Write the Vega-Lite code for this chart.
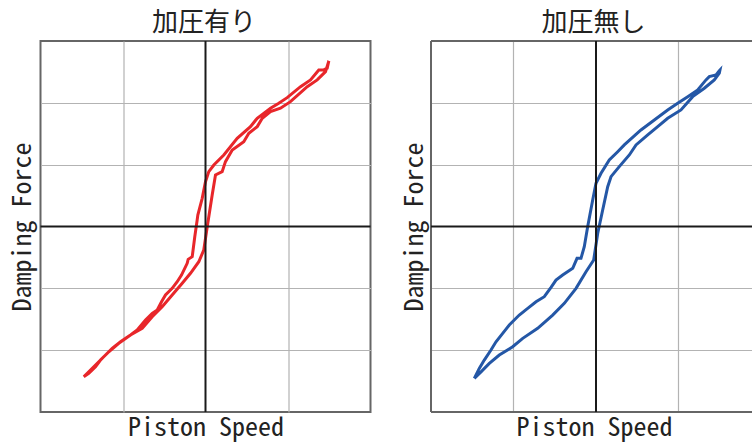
{
  "$schema": "https://vega.github.io/schema/vega-lite/v6.json",
  "background": "white",
  "padding": {"left": 7.5, "top": 9, "right": 0, "bottom": 0},
  "bounds": "flush",
  "spacing": 60.5,
  "config": {
    "view": {"stroke": "#666666", "strokeWidth": 2},
    "title": {"font": "Noto Sans CJK JP", "fontSize": 26, "fontWeight": "normal", "color": "#222222", "offset": 4},
    "axis": {"labels": false, "ticks": false, "domain": false, "grid": true, "gridColor": "#b3b3b3", "gridWidth": 1.2,
      "titleFont": "Noto Sans Mono CJK JP, DejaVu Sans Mono", "titleFontSize": 26, "titleFontWeight": "normal", "titleColor": "#222222"}
  },
  "datasets": {
    "red": [
      {"i":1,"x":-1.476,"y":-2.430},{"i":2,"x":-1.415,"y":-2.375},{"i":3,"x":-1.333,"y":-2.269},{"i":4,"x":-1.273,"y":-2.160},
      {"i":5,"x":-1.172,"y":-2.026},{"i":6,"x":-1.051,"y":-1.890},{"i":7,"x":-0.909,"y":-1.754},{"i":8,"x":-0.767,"y":-1.647},
      {"i":9,"x":-0.646,"y":-1.460},{"i":10,"x":-0.525,"y":-1.298},{"i":11,"x":-0.404,"y":-1.108},{"i":12,"x":-0.282,"y":-0.919},
      {"i":13,"x":-0.182,"y":-0.757},{"i":14,"x":-0.081,"y":-0.570},{"i":15,"x":-0.021,"y":-0.380},{"i":16,"x":0.021,"y":-0.003},
      {"i":17,"x":0.081,"y":0.510},{"i":18,"x":0.121,"y":0.833},{"i":19,"x":0.202,"y":0.887},{"i":20,"x":0.242,"y":1.049},
      {"i":21,"x":0.324,"y":1.238},{"i":22,"x":0.464,"y":1.372},{"i":23,"x":0.525,"y":1.508},{"i":24,"x":0.627,"y":1.615},
      {"i":25,"x":0.688,"y":1.751},{"i":26,"x":0.788,"y":1.858},{"i":27,"x":0.909,"y":1.913},{"i":28,"x":1.030,"y":2.019},
      {"i":29,"x":1.233,"y":2.262},{"i":30,"x":1.354,"y":2.371},{"i":31,"x":1.455,"y":2.505},{"i":32,"x":1.495,"y":2.678},
      {"i":33,"x":1.475,"y":2.560},{"i":34,"x":1.434,"y":2.532},{"i":35,"x":1.373,"y":2.532},{"i":36,"x":1.273,"y":2.371},
      {"i":37,"x":1.152,"y":2.262},{"i":38,"x":0.990,"y":2.084},{"i":39,"x":0.888,"y":1.994},{"i":40,"x":0.788,"y":1.913},
      {"i":41,"x":0.627,"y":1.751},{"i":42,"x":0.545,"y":1.615},{"i":43,"x":0.384,"y":1.427},{"i":44,"x":0.222,"y":1.157},
      {"i":45,"x":0.101,"y":0.995},{"i":46,"x":0.040,"y":0.887},{"i":47,"x":0.000,"y":0.725},{"i":48,"x":-0.040,"y":0.456},
      {"i":49,"x":-0.093,"y":0.186},{"i":50,"x":-0.101,"y":0.105},{"i":51,"x":-0.130,"y":-0.165},{"i":52,"x":-0.161,"y":-0.489},
      {"i":53,"x":-0.210,"y":-0.531},{"i":54,"x":-0.222,"y":-0.595},{"i":55,"x":-0.291,"y":-0.785},{"i":56,"x":-0.343,"y":-0.893},
      {"i":57,"x":-0.404,"y":-1.000},{"i":58,"x":-0.485,"y":-1.108},{"i":59,"x":-0.533,"y":-1.217},{"i":60,"x":-0.585,"y":-1.351},
      {"i":61,"x":-0.646,"y":-1.405},{"i":62,"x":-0.727,"y":-1.513},{"i":63,"x":-0.828,"y":-1.675},{"i":64,"x":-0.909,"y":-1.754},
      {"i":65,"x":-1.030,"y":-1.864},{"i":66,"x":-1.131,"y":-1.971},{"i":67,"x":-1.233,"y":-2.107},{"i":68,"x":-1.333,"y":-2.241},
      {"i":69,"x":-1.415,"y":-2.350},{"i":70,"x":-1.476,"y":-2.430}
    ],
    "blue": [
      {"i":1,"x":-1.475,"y":-2.456},{"i":2,"x":-1.394,"y":-2.350},{"i":3,"x":-1.293,"y":-2.214},{"i":4,"x":-1.172,"y":-2.079},
      {"i":5,"x":-1.010,"y":-1.945},{"i":6,"x":-0.888,"y":-1.809},{"i":7,"x":-0.707,"y":-1.647},{"i":8,"x":-0.525,"y":-1.432},
      {"i":9,"x":-0.384,"y":-1.243},{"i":10,"x":-0.242,"y":-1.000},{"i":11,"x":-0.121,"y":-0.731},{"i":12,"x":-0.028,"y":-0.542},
      {"i":13,"x":0.021,"y":-0.110},{"i":14,"x":0.081,"y":0.267},{"i":15,"x":0.142,"y":0.644},{"i":16,"x":0.182,"y":0.806},
      {"i":17,"x":0.282,"y":0.968},{"i":18,"x":0.404,"y":1.157},{"i":19,"x":0.485,"y":1.319},{"i":20,"x":0.627,"y":1.481},
      {"i":21,"x":0.748,"y":1.615},{"i":22,"x":0.869,"y":1.751},{"i":23,"x":1.030,"y":1.885},{"i":24,"x":1.172,"y":2.100},
      {"i":25,"x":1.313,"y":2.236},{"i":26,"x":1.434,"y":2.371},{"i":27,"x":1.495,"y":2.479},{"i":28,"x":1.503,"y":2.532},
      {"i":29,"x":1.495,"y":2.521},{"i":30,"x":1.455,"y":2.451},{"i":31,"x":1.373,"y":2.424},{"i":32,"x":1.333,"y":2.371},
      {"i":33,"x":1.233,"y":2.209},{"i":34,"x":1.112,"y":2.100},{"i":35,"x":0.990,"y":1.994},{"i":36,"x":0.869,"y":1.885},
      {"i":37,"x":0.707,"y":1.723},{"i":38,"x":0.545,"y":1.561},{"i":39,"x":0.343,"y":1.319},{"i":40,"x":0.263,"y":1.210},
      {"i":41,"x":0.161,"y":1.076},{"i":42,"x":0.061,"y":0.861},{"i":43,"x":0.000,"y":0.699},{"i":44,"x":-0.040,"y":0.429},
      {"i":45,"x":-0.101,"y":-0.003},{"i":46,"x":-0.142,"y":-0.327},{"i":47,"x":-0.182,"y":-0.515},{"i":48,"x":-0.230,"y":-0.515},
      {"i":49,"x":-0.282,"y":-0.676},{"i":50,"x":-0.404,"y":-0.785},{"i":51,"x":-0.485,"y":-0.866},{"i":52,"x":-0.545,"y":-0.984},
      {"i":53,"x":-0.627,"y":-1.136},{"i":54,"x":-0.727,"y":-1.217},{"i":55,"x":-0.828,"y":-1.324},{"i":56,"x":-0.930,"y":-1.432},
      {"i":57,"x":-1.051,"y":-1.594},{"i":58,"x":-1.131,"y":-1.728},{"i":59,"x":-1.212,"y":-1.864},{"i":60,"x":-1.273,"y":-1.998},
      {"i":61,"x":-1.354,"y":-2.160},{"i":62,"x":-1.415,"y":-2.295},{"i":63,"x":-1.475,"y":-2.456}
    ]
  },
  "hconcat": [
    {
      "width": 330,
      "height": 371,
      "title": {"text": "加圧有り", "dx": -1.5},
      "layer": [
        {
          "data": {"name": "red"},
          "mark": {"type": "line", "color": "#e8262a", "strokeWidth": 3},
          "encoding": {
            "x": {"field": "x", "type": "quantitative", "scale": {"domain": [-2, 2], "nice": false, "zero": false},
              "axis": {"title": "Piston Speed", "values": [-1, 1], "titlePadding": 2.5}},
            "y": {"field": "y", "type": "quantitative", "scale": {"domain": [-3, 3], "nice": false, "zero": false},
              "axis": {"title": "Damping Force", "values": [-2, -1, 1, 2], "titlePadding": 5.5}},
            "order": {"field": "i", "type": "quantitative"}
          }
        },
        {
          "data": {"values": [{}]},
          "mark": {"type": "rule", "color": "#1a1a1a", "strokeWidth": 2},
          "encoding": {"x": {"datum": 0, "type": "quantitative"}}
        },
        {
          "data": {"values": [{}]},
          "mark": {"type": "rule", "color": "#1a1a1a", "strokeWidth": 2},
          "encoding": {"y": {"datum": 0, "type": "quantitative"}}
        }
      ]
    },
    {
      "width": 321,
      "height": 371,
      "view": {"stroke": null},
      "title": {"text": "加圧無し", "dx": 2},
      "layer": [
        {
          "data": {"name": "blue"},
          "mark": {"type": "line", "color": "#2457a6", "strokeWidth": 3},
          "encoding": {
            "x": {"field": "x", "type": "quantitative", "scale": {"domain": [-2, 1.891], "nice": false, "zero": false},
              "axis": {"title": "Piston Speed", "values": [-1, 1], "titlePadding": 2.5, "titleX": 163}},
            "y": {"field": "y", "type": "quantitative", "scale": {"domain": [-3, 3], "nice": false, "zero": false},
              "axis": {"title": "Damping Force", "values": [-2, -1, 1, 2], "titlePadding": 4}},
            "order": {"field": "i", "type": "quantitative"}
          }
        },
        {
          "data": {"values": [{}]},
          "mark": {"type": "rule", "color": "#666666", "strokeWidth": 2},
          "encoding": {"y": {"datum": 3, "type": "quantitative"}}
        },
        {
          "data": {"values": [{}]},
          "mark": {"type": "rule", "color": "#666666", "strokeWidth": 2},
          "encoding": {"y": {"datum": -3, "type": "quantitative"}}
        },
        {
          "data": {"values": [{}]},
          "mark": {"type": "rule", "color": "#666666", "strokeWidth": 2},
          "encoding": {"x": {"datum": -2, "type": "quantitative"}}
        },
        {
          "data": {"values": [{}]},
          "mark": {"type": "rule", "color": "#1a1a1a", "strokeWidth": 2},
          "encoding": {"x": {"datum": 0, "type": "quantitative"}}
        },
        {
          "data": {"values": [{}]},
          "mark": {"type": "rule", "color": "#1a1a1a", "strokeWidth": 2},
          "encoding": {"y": {"datum": 0, "type": "quantitative"}}
        }
      ]
    }
  ]
}
